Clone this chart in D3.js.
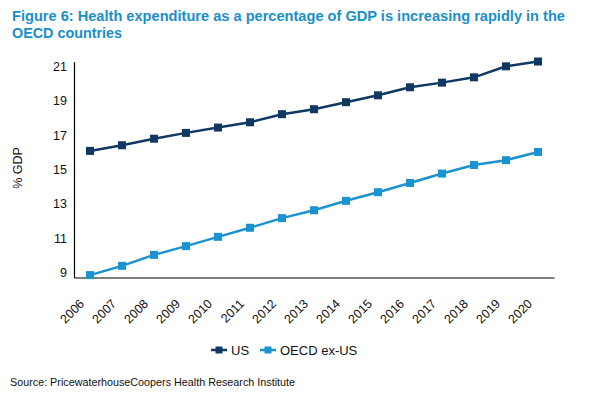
<!doctype HTML>
<meta charset="utf-8">
<html>
<head>
    <script src="https://d3js.org/d3.v7.min.js"></script>
    <style>
        body { margin: 0; background: #fff; }
        text { font-family: "Liberation Sans", Arial, sans-serif; fill: #111; }
    </style>
</head>
<body>
<div id="chart"></div>
<script>

    // data
    var years = ["2006","2007","2008","2009","2010","2011","2012","2013","2014","2015","2016","2017","2018","2019","2020"];
    var usValues   = [16.09, 16.42, 16.8, 17.14, 17.45, 17.76, 18.23, 18.52, 18.93, 19.33, 19.8, 20.07, 20.38, 21.02, 21.3];
    var oecdValues = [8.85, 9.39, 10.03, 10.54, 11.08, 11.61, 12.17, 12.63, 13.18, 13.68, 14.22, 14.77, 15.27, 15.55, 16.03];
    var yTicks = [9, 11, 13, 15, 17, 19, 21];
    var seriesNames = ["US", "OECD ex-US"];
    var seriesColors = ["#0f3862", "#1b93d1"];

    var W = 589, H = 395;
    var margin = {top: 61.7, right: 35, bottom: 117.5, left: 74},
        width = W - margin.left - margin.right,
        height = H - margin.top - margin.bottom;

    var svg = d3.select("#chart")
        .append("svg")
        .attr("width", W)
        .attr("height", H);

    // title
    svg.append("text")
        .attr("x", 12).attr("y", 21)
        .attr("font-size", "14.5px").attr("font-weight", "bold")
        .style("fill", "#1a8fc8")
        .attr("textLength", 553).attr("lengthAdjust", "spacingAndGlyphs")
        .text("Figure 6: Health expenditure as a percentage of GDP is increasing rapidly in the");
    svg.append("text")
        .attr("x", 12).attr("y", 38)
        .attr("font-size", "14.5px").attr("font-weight", "bold")
        .style("fill", "#1a8fc8")
        .attr("textLength", 110).attr("lengthAdjust", "spacingAndGlyphs")
        .text("OECD countries");

    var g = svg.append("g")
        .attr("transform", "translate(" + margin.left + "," + margin.top + ")");

    var x = d3.scaleBand().domain(years).range([0, width]);
    var y = d3.scaleLinear().domain([8.71, 21.29]).range([height, 0]);

    // y axis
    var yAxis = g.append("g")
        .call(d3.axisLeft(y).tickValues(yTicks).tickSize(0).tickPadding(7));
    yAxis.select(".domain").attr("stroke", "#000").attr("stroke-width", 1.2);
    yAxis.selectAll("text").attr("font-size", "12.5px").attr("font-family", "Liberation Sans, Arial, sans-serif");

    // x axis
    var xAxis = g.append("g")
        .attr("transform", "translate(0," + height + ")")
        .call(d3.axisBottom(x).tickSize(0).tickPadding(0));
    xAxis.select(".domain").attr("stroke", "#000").attr("stroke-width", 1.2);
    xAxis.selectAll("text")
        .attr("font-size", "12.5px")
        .attr("font-family", "Liberation Sans, Arial, sans-serif")
        .attr("text-anchor", "end")
        .attr("dy", null)
        .attr("y", null)
        .attr("transform", "translate(-5,27) rotate(-45)");

    // y label
    svg.append("text")
        .attr("transform", "translate(22,168) rotate(-90)")
        .attr("text-anchor", "middle")
        .attr("font-size", "12.5px")
        .text("% GDP");

    var line = d3.line()
        .x(function(d, i) { return x(years[i]) + x.bandwidth() / 2; })
        .y(function(d) { return y(d); });

    [usValues, oecdValues].forEach(function(vals, k) {
        g.append("path")
            .datum(vals)
            .attr("fill", "none")
            .attr("stroke", seriesColors[k])
            .attr("stroke-width", 2.5)
            .attr("d", line);
        g.selectAll(".pt" + k)
            .data(vals)
            .enter().append("rect")
            .attr("class", "pt" + k)
            .attr("x", function(d, i) { return x(years[i]) + x.bandwidth() / 2 - 4; })
            .attr("y", function(d) { return y(d) - 4; })
            .attr("width", 8)
            .attr("height", 8)
            .attr("fill", seriesColors[k]);
    });

    // legend
    var legendX = [211, 260];
    var legend = svg.append("g").attr("transform", "translate(0,350)");
    seriesNames.forEach(function(name, k) {
        var lg = legend.append("g").attr("transform", "translate(" + legendX[k] + ",0)");
        lg.append("line")
            .attr("x1", 0).attr("x2", 16).attr("y1", 0).attr("y2", 0)
            .attr("stroke", seriesColors[k]).attr("stroke-width", 2.5);
        lg.append("rect")
            .attr("x", 4.5).attr("y", -3.5).attr("width", 7).attr("height", 7)
            .attr("fill", seriesColors[k]);
        lg.append("text")
            .attr("x", 20).attr("y", 4.5)
            .attr("font-size", "13px")
            .text(name);
    });

    // source
    svg.append("text")
        .attr("x", 10).attr("y", 386)
        .attr("font-size", "11.5px")
        .attr("textLength", 285).attr("lengthAdjust", "spacingAndGlyphs")
        .text("Source: PricewaterhouseCoopers Health Research Institute");

</script>
</body>
</html>
